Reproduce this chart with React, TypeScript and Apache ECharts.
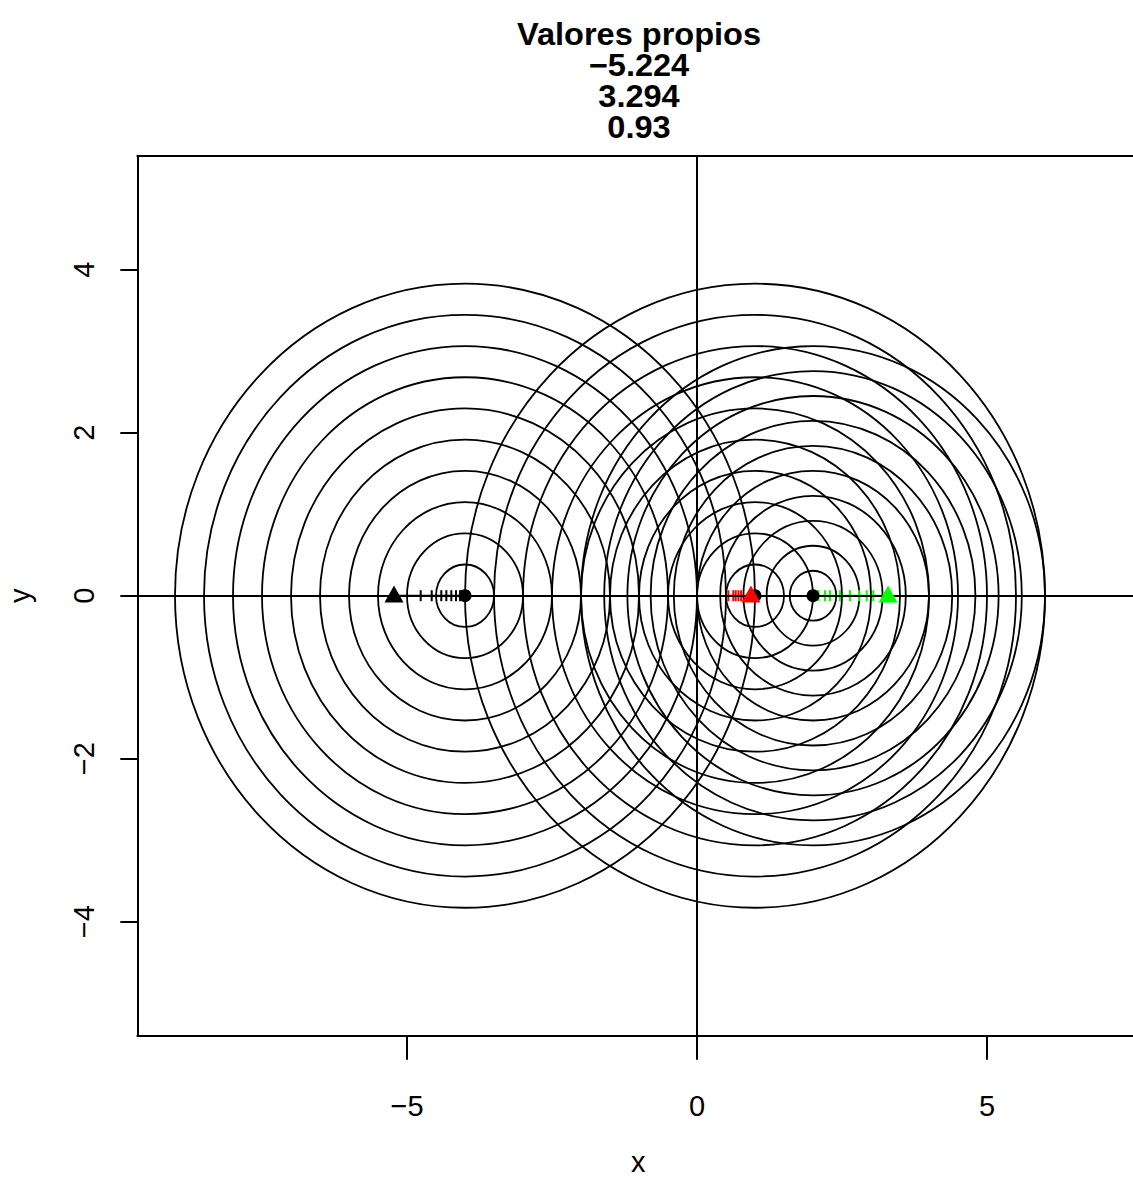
import React, { useEffect, useRef } from 'react';
import * as echarts from 'echarts';

// ---- data ----
const X_TICKS = [-5, 0, 5];
const Y_TICKS = [-4, -2, 0, 2, 4];
const X_MIN = -9.65;
const X_MAX = 7.517;
const Y_MIN = -5.4;
const Y_MAX = 5.4;
const TITLE_LINES = ['Valores propios', '\u22125.224', '3.294', '0.93'];

const DIAGONAL = [-4, 1, 2];
const RADII_A = [0.5, 1, 1.5, 2, 2.5, 3, 3.5, 4, 4.5, 5];
const RADII_B = [0.5, 1, 1.5, 2, 2.5, 3, 3.5, 4, 4.5, 5];
const RADII_C = [0.4, 0.8, 1.2, 1.6, 2, 2.4, 2.8, 3.2, 3.6, 4];
const EIGENVALUES = [-5.224, 0.93, 3.294];
const PATH_A = [-4.086, -4.155, -4.236, -4.322, -4.409, -4.574, -4.764];
const PATH_B = [0.76, 0.713, 0.667, 0.626, 0.54];
const PATH_C = [2.092, 2.207, 2.293, 2.466, 2.638, 2.793, 2.926, 3.04];
const PATH_COLORS = ['#000000', '#ff0000', '#00ff00'];

const CIRCLE_ASPECT = 1.076; // screen y/x ratio of drawn circles
const FONT = '"Liberation Sans", Arial, Helvetica, sans-serif';

const fmt = (v: number) => (v < 0 ? '\u2212' + Math.abs(v) : String(v));

export default function App() {
  const ref = useRef<HTMLDivElement>(null);
  useEffect(() => {
    if (!ref.current) return;
    const chart = echarts.init(ref.current, null, { renderer: 'svg' });

    const circleData: number[][] = [];
    [RADII_A, RADII_B, RADII_C].forEach((radii, i) => {
      radii.forEach((r) => circleData.push([DIAGONAL[i], r]));
    });

    const paths = [PATH_A, PATH_B, PATH_C];
    const pathSeries: any[] = [];
    paths.forEach((p, i) => {
      const lineData = [DIAGONAL[i], ...p, EIGENVALUES[i]].map((x) => [x, 0]);
      pathSeries.push({
        type: 'line',
        data: lineData,
        showSymbol: false,
        symbol: 'none',
        lineStyle: { color: PATH_COLORS[i], width: 2, opacity: 1 },
        z: 3,
        silent: true,
      });
      pathSeries.push({
        type: 'scatter',
        data: p.map((x) => [x, 0]),
        symbol: 'rect',
        symbolSize: [2, 11],
        itemStyle: { color: PATH_COLORS[i], opacity: 1 },
        z: 3,
        silent: true,
      });
    });

    const axisText = { fontSize: 29, color: '#000', fontFamily: FONT };

    chart.setOption({
      animation: false,
      backgroundColor: '#ffffff',
      grid: {
        left: 137.3,
        top: 155.7,
        right: 0,
        height: 880,
        containLabel: false,
        outerBoundsMode: 'none',
      },
      graphic: [
        {
          type: 'text',
          x: 639,
          y: 18.5,
          scaleX: 1.05,
          style: {
            text: TITLE_LINES.join('\n'),
            align: 'center',
            verticalAlign: 'top',
            lineHeight: 31,
            fontSize: 31,
            fontWeight: 'bold',
            fontFamily: FONT,
            fill: '#000',
          },
        },
      ],
      xAxis: [
        {
          type: 'value',
          min: X_MIN,
          max: X_MAX,
          position: 'bottom',
          axisLine: { show: true, onZero: false, lineStyle: { color: '#000', width: 2 } },
          axisTick: { show: true, length: 24, customValues: X_TICKS, lineStyle: { color: '#000', width: 2 } },
          axisLabel: { show: true, customValues: X_TICKS, formatter: fmt, margin: 56, ...axisText },
          splitLine: { show: false },
          name: 'x',
          nameLocation: 'middle',
          nameGap: 112,
          nameTextStyle: { ...axisText, padding: [0, 0, 0, 6] },
        },
        {
          type: 'value',
          min: X_MIN,
          max: X_MAX,
          position: 'top',
          axisLine: { show: true, onZero: false, lineStyle: { color: '#000', width: 2 } },
          axisTick: { show: false },
          axisLabel: { show: false },
          splitLine: { show: false },
        },
      ],
      yAxis: {
        type: 'value',
        min: Y_MIN,
        max: Y_MAX,
        axisLine: { show: true, onZero: false, lineStyle: { color: '#000', width: 2 } },
        axisTick: { show: true, length: 17, customValues: Y_TICKS, lineStyle: { color: '#000', width: 2 } },
        axisLabel: { show: true, customValues: Y_TICKS, formatter: fmt, rotate: 90, margin: 39, ...axisText },
        splitLine: { show: false },
        name: 'y',
        nameLocation: 'middle',
        nameGap: 103,
        nameTextStyle: { ...axisText },
      },
      series: [
        {
          type: 'custom',
          data: circleData,
          encode: { x: 0 },
          clip: true,
          z: 1,
          silent: true,
          renderItem: (params: any, api: any) => {
            const cx = api.value(0);
            const r = api.value(1);
            const c = api.coord([cx, 0]);
            const rx = api.size([r, 0])[0];
            return {
              type: 'ellipse',
              shape: { cx: c[0], cy: c[1], rx, ry: rx * CIRCLE_ASPECT },
              style: { fill: 'none', stroke: '#000', lineWidth: 1.8 },
            };
          },
        },
        {
          type: 'line',
          data: [],
          z: 2,
          silent: true,
          markLine: {
            silent: true,
            symbol: ['none', 'none'],
            label: { show: false },
            lineStyle: { color: '#000', width: 2, type: 'solid', opacity: 1 },
            data: [{ yAxis: 0 }, { xAxis: 0 }],
          },
        },
        ...pathSeries,
        {
          type: 'scatter',
          data: DIAGONAL.map((x) => [x, 0]),
          symbol: 'circle',
          symbolSize: 13,
          itemStyle: { color: '#000', opacity: 1 },
          z: 4,
          silent: true,
        },
        {
          type: 'scatter',
          data: EIGENVALUES.map((x, i) => ({ value: [x, 0], itemStyle: { color: PATH_COLORS[i], opacity: 1 } })),
          symbol: 'triangle',
          symbolSize: [19, 17],
          symbolOffset: [0, -1.8],
          itemStyle: { opacity: 1 },
          z: 5,
          silent: true,
        },
      ],
    });
    return () => chart.dispose();
  }, []);
  return (
    <div
      ref={ref}
      style={{ position: 'absolute', left: 0, top: 0, width: 1133, height: 1178, background: '#fff' }}
    />
  );
}
